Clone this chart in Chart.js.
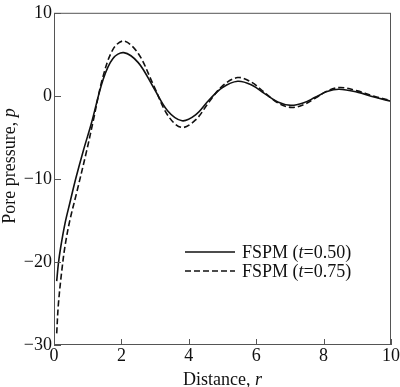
<!DOCTYPE html>
<html>
<head>
<meta charset="utf-8">
<script src="https://cdn.jsdelivr.net/npm/chart.js@4.4.1/dist/chart.umd.min.js"></script>
<style>
html,body{margin:0;padding:0;background:#fff;}
#wrap{width:400px;height:387px;position:relative;}
</style>
</head>
<body>
<div id="wrap"><canvas id="c" width="400" height="387"></canvas></div>
<script>
// ---- data ----
const rSolid = [0.08,0.13,0.2,0.33,0.47,0.65,0.87,1.11,1.46,1.75,2.07,2.5,2.94,3.37,3.8,4.2,4.6,5.0,5.45,5.85,6.24,6.64,7.03,7.39,7.75,8.1,8.46,9.0,9.5,10];
const pSolid = [-22.3,-20.2,-18.2,-15.3,-12.9,-9.9,-6.6,-3.3,2.0,4.5,5.2,4.0,1.1,-1.8,-3.0,-2.3,-0.5,1.0,1.75,1.33,0.3,-0.73,-1.15,-0.87,-0.18,0.51,0.8,0.45,-0.15,-0.65];
const rDash = [0.08,0.13,0.23,0.33,0.47,0.67,0.97,1.16,1.44,1.75,2.07,2.5,2.94,3.37,3.78,4.2,4.6,5.0,5.45,5.85,6.25,6.65,7.05,7.41,7.78,8.14,8.5,9.0,9.5,10];
const pDash = [-28.6,-25.1,-21.1,-18.0,-15.0,-11.7,-6.6,-3.1,2.1,5.6,6.6,5.1,1.4,-2.3,-3.8,-2.9,-0.75,1.2,2.2,1.67,0.4,-0.87,-1.4,-1.05,-0.2,0.65,1.0,0.6,-0.05,-0.6];
const seriesNames = [["FSPM (", "t", "=0.50)"], ["FSPM (", "t", "=0.75)"]];
const xTicks = [0,2,4,6,8,10];
const yTicks = [-30,-20,-10,0,10];
const xTitle = ["Distance, ", "r"];
const yTitle = ["Pore pressure, ", "p"];

const FONT = "'Liberation Serif', 'Times New Roman', serif";
const FS = 18;
const toXY = (xs, ys) => xs.map((x, i) => ({x, y: ys[i]}));

function drawMixed(ctx, parts, x, y, align) {
  const fonts = parts.map((_, i) => (i % 2 === 1 ? "italic " : "") + FS + "px " + FONT);
  let total = 0;
  const widths = parts.map((p, i) => { ctx.font = fonts[i]; const w = ctx.measureText(p).width; total += w; return w; });
  let cx = align === 'center' ? x - total / 2 : x;
  ctx.textAlign = 'left';
  parts.forEach((p, i) => { ctx.font = fonts[i]; ctx.fillText(p, cx, y); cx += widths[i]; });
}

const decor = {
  id: 'decor',
  afterDraw(chart) {
    const {ctx, chartArea: a, scales} = chart;
    ctx.save();
    ctx.strokeStyle = '#555';
    ctx.lineWidth = 1;
    ctx.strokeRect(a.left + 0.5, a.top + 0.5, a.right - a.left - 1, a.bottom - a.top - 1);
    ctx.beginPath();
    xTicks.forEach(v => {
      const px = Math.round(scales.x.getPixelForValue(v)) + 0.5;
      ctx.moveTo(px, a.bottom); ctx.lineTo(px, a.bottom - 6);
    });
    yTicks.forEach(v => {
      const py = Math.round(scales.y.getPixelForValue(v)) + 0.5;
      ctx.moveTo(a.left, py); ctx.lineTo(a.left + 7, py);
    });
    ctx.stroke();
    ctx.fillStyle = '#111';
    ctx.textBaseline = 'alphabetic';
    drawMixed(ctx, xTitle, (a.left + a.right) / 2, 385, 'center');
    ctx.save();
    ctx.translate(15, 166);
    ctx.rotate(-Math.PI / 2);
    drawMixed(ctx, yTitle, 0, 0, 'center');
    ctx.restore();
    const lx0 = 185, lx1 = 235, tx = 242;
    const ys = [252, 271];
    chart.data.datasets.forEach((ds, i) => {
      ctx.strokeStyle = '#111';
      ctx.lineWidth = 1.5;
      ctx.setLineDash(ds.borderDash || []);
      ctx.beginPath();
      ctx.moveTo(lx0, ys[i]); ctx.lineTo(lx1, ys[i]);
      ctx.stroke();
      ctx.setLineDash([]);
      ctx.textBaseline = 'middle';
      drawMixed(ctx, seriesNames[i], tx, ys[i] + 1, 'left');
    });
    ctx.restore();
  }
};

new Chart(document.getElementById('c'), {
  type: 'line',
  data: {
    datasets: [
      {label: seriesNames[0].join(''), data: toXY(rSolid, pSolid), borderColor: '#111', borderWidth: 1.6, pointRadius: 0, tension: 0.35, fill: false},
      {label: seriesNames[1].join(''), data: toXY(rDash, pDash), borderColor: '#111', borderWidth: 1.6, borderDash: [6, 3], pointRadius: 0, tension: 0.35, fill: false}
    ]
  },
  options: {
    responsive: false,
    animation: false,
    devicePixelRatio: 1,
    layout: {padding: {left: 0, right: 8, top: 6, bottom: 0}},
    plugins: {legend: {display: false}, tooltip: {enabled: false}},
    scales: {
      x: {
        type: 'linear', min: 0, max: 10,
        afterFit(s) { s.height = 42; },
        afterBuildTicks(s) { s.ticks = xTicks.map(v => ({value: v})); },
        grid: {display: true, drawOnChartArea: false, drawTicks: false, color: 'rgba(0,0,0,0)'},
        border: {display: false},
        ticks: {color: '#111', font: {family: FONT, size: FS}, padding: 0, maxRotation: 0, autoSkip: false}
      },
      y: {
        type: 'linear', min: -30, max: 10,
        afterFit(s) { s.width = 54; },
        afterBuildTicks(s) { s.ticks = yTicks.map(v => ({value: v})); },
        grid: {display: true, drawOnChartArea: false, drawTicks: false, color: 'rgba(0,0,0,0)'},
        border: {display: false},
        ticks: {color: '#111', font: {family: FONT, size: FS}, padding: 2, autoSkip: false,
          callback: v => (v < 0 ? '\u2212' + Math.abs(v) : String(v))}
      }
    }
  },
  plugins: [decor]
});
</script>
</body>
</html>
